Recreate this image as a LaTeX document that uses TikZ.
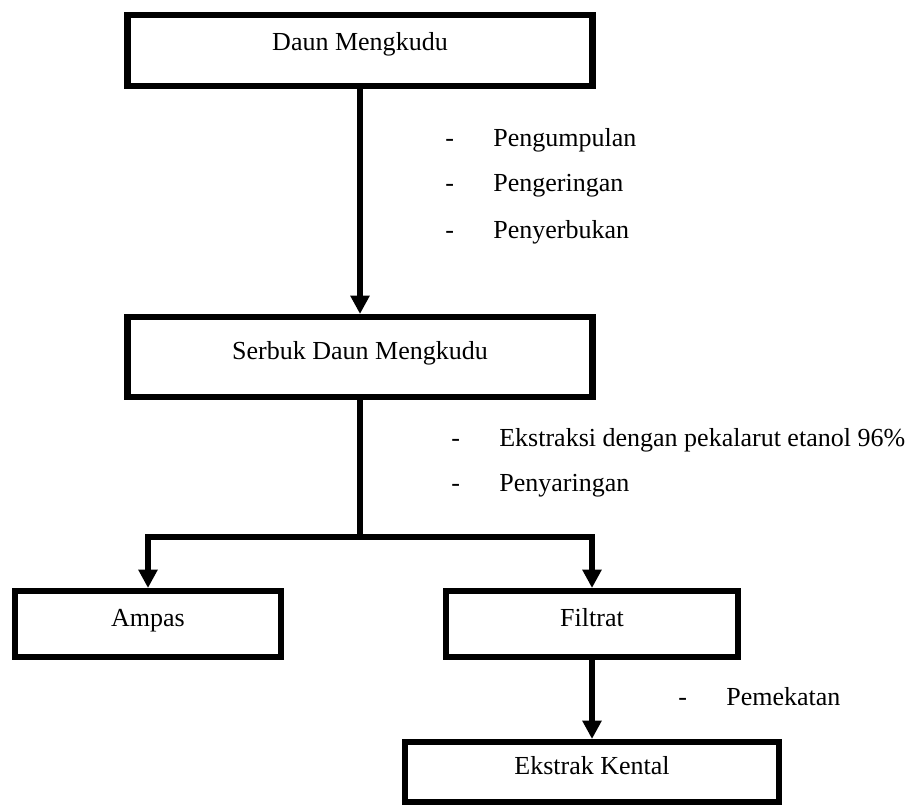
\documentclass[tikz,border=0pt]{standalone}
\usepackage{fontspec}
\setmainfont{Liberation Serif}
\usetikzlibrary{arrows.meta}

\newcommand{\langkah}[1]{-\hspace{28pt}#1}

\tikzset{
    kotak/.style={draw, line width=4.3pt, inner sep=0pt, text height=0.7em, text depth=0.3em,
        font=\fontsize{18.5}{22}\selectfont},
    ket/.style={anchor=west, inner sep=0pt, font=\fontsize{18.5}{22}\selectfont},
    alur/.style={line width=4.3pt, -{Triangle[length=13pt,width=13pt]}},
}

\begin{document}
\begin{tikzpicture}

        \useasboundingbox (0,0) rectangle (22.9,-20.125);

        % Boxes
        \node[kotak, text depth=0.65em, minimum width=11.625cm, minimum height=1.775cm] (daun) at (9.0,-1.2625) {Daun Mengkudu};
        \node[kotak, minimum width=11.625cm, minimum height=2.0cm] (serbuk) at (9.0,-8.925) {Serbuk Daun Mengkudu};
        \node[kotak, minimum width=6.65cm, minimum height=1.65cm] (ampas) at (3.7,-15.6) {Ampas};
        \node[kotak, minimum width=7.3cm, minimum height=1.65cm] (filtrat) at (14.8,-15.6) {Filtrat};
        \node[kotak, minimum width=9.35cm, minimum height=1.5cm] (kental) at (14.8,-19.3) {Ekstrak Kental};

        \coordinate (cabang) at (9.0,-13.425);

        % Arrows
        \draw[alur] (daun) -- (serbuk);
        \draw[line width=4.3pt] (serbuk) -- (cabang);
        \draw[alur] (cabang) -| (ampas.north);
        \draw[alur] (cabang) -| (filtrat.north);
        \draw[alur] (filtrat) -- (kental);

        % Steps
        \foreach \t [count=\i] in {Pengumpulan, Pengeringan, Penyerbukan}
            {
                \node[ket] (tahap\i) at (11.125, -2.35 - 1.15*\i) {\langkah{\t}};
            }
        \node[ket] (ekstraksi) at (11.275,-11.0) {\langkah{Ekstraksi dengan pekalarut etanol 96\%}};
        \node[ket] (saring) at (11.275,-12.15) {\langkah{Penyaringan}};
        \node[ket] (pekat) at (16.95,-17.425) {\langkah{Pemekatan}};

\end{tikzpicture}
\end{document}
